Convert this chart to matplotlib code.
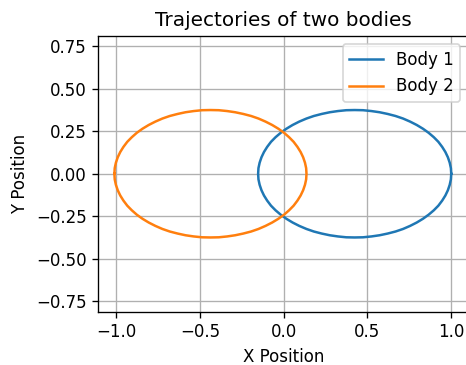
import matplotlib
matplotlib.use("Agg")
import matplotlib.pyplot as plt
from matplotlib.ticker import MultipleLocator

body1_x = [1.002, 1.000, 0.993, 0.982, 0.967, 0.948, 0.925, 0.898, 0.867, 0.833,
           0.796, 0.756, 0.714, 0.669, 0.622, 0.574, 0.525, 0.475, 0.425, 0.375,
           0.325, 0.276, 0.228, 0.181, 0.137, 0.094, 0.054, 0.017, -0.017, -0.048,
           -0.075, -0.098, -0.117, -0.132, -0.143, -0.150, -0.152,
           -0.150, -0.143, -0.132, -0.117, -0.098, -0.075, -0.048, -0.017, 0.017,
           0.054, 0.094, 0.137, 0.181, 0.228, 0.276, 0.325, 0.375, 0.425, 0.475,
           0.525, 0.574, 0.622, 0.669, 0.714, 0.756, 0.796, 0.833, 0.867, 0.898,
           0.925, 0.948, 0.967, 0.982, 0.993, 1.000, 1.002]
body1_y = [0.0, 0.033, 0.065, 0.097, 0.128, 0.158, 0.188, 0.215, 0.241, 0.265,
           0.287, 0.307, 0.325, 0.340, 0.352, 0.362, 0.369, 0.374, 0.375, 0.374,
           0.369, 0.362, 0.352, 0.340, 0.325, 0.307, 0.287, 0.265, 0.241, 0.215,
           0.188, 0.158, 0.128, 0.097, 0.065, 0.033, 0.0,
           -0.033, -0.065, -0.097, -0.128, -0.158, -0.188, -0.215, -0.241, -0.265,
           -0.287, -0.307, -0.325, -0.340, -0.352, -0.362, -0.369, -0.374, -0.375,
           -0.374, -0.369, -0.362, -0.352, -0.340, -0.325, -0.307, -0.287, -0.265,
           -0.241, -0.215, -0.188, -0.158, -0.128, -0.097, -0.065, -0.033, 0.0]

body2_x = [-1.011, -1.009, -1.002, -0.991, -0.976, -0.957, -0.934, -0.907, -0.877, -0.843,
           -0.806, -0.766, -0.724, -0.680, -0.633, -0.586, -0.537, -0.487, -0.437, -0.387,
           -0.337, -0.289, -0.241, -0.194, -0.150, -0.108, -0.068, -0.031, 0.003, 0.033,
           0.060, 0.083, 0.102, 0.117, 0.128, 0.135, 0.137,
           0.135, 0.128, 0.117, 0.102, 0.083, 0.060, 0.033, 0.003, -0.031,
           -0.068, -0.108, -0.150, -0.194, -0.241, -0.289, -0.337, -0.387, -0.437,
           -0.487, -0.537, -0.586, -0.633, -0.680, -0.724, -0.766, -0.806, -0.843,
           -0.877, -0.907, -0.934, -0.957, -0.976, -0.991, -1.002, -1.009, -1.011]
body2_y = [0.0, -0.033, -0.065, -0.097, -0.128, -0.158, -0.188, -0.215, -0.241, -0.265,
           -0.287, -0.307, -0.325, -0.340, -0.352, -0.362, -0.369, -0.374, -0.375, -0.374,
           -0.369, -0.362, -0.352, -0.340, -0.325, -0.307, -0.287, -0.265, -0.241, -0.215,
           -0.188, -0.158, -0.128, -0.097, -0.065, -0.033, 0.0,
           0.033, 0.065, 0.097, 0.128, 0.158, 0.188, 0.215, 0.241, 0.265,
           0.287, 0.307, 0.325, 0.340, 0.352, 0.362, 0.369, 0.374, 0.375,
           0.374, 0.369, 0.362, 0.352, 0.340, 0.325, 0.307, 0.287, 0.265,
           0.241, 0.215, 0.188, 0.158, 0.128, 0.097, 0.065, 0.033, 0.0]

DPI = 120
fig = plt.figure(figsize=(466 / DPI, 365 / DPI), dpi=DPI)
ax = fig.add_axes([0.211, 0.146, 0.795, 0.755])
ax.plot(body1_x, body1_y, label="Body 1")
ax.plot(body2_x, body2_y, label="Body 2")
ax.set_xlim(-1.107, 1.107)
ax.set_ylim(-0.812, 0.81)
ax.xaxis.set_major_locator(MultipleLocator(0.5))
ax.yaxis.set_major_locator(MultipleLocator(0.25))
ax.set_title("Trajectories of two bodies")
ax.set_xlabel("X Position")
ax.set_ylabel("Y Position")
ax.grid(True)
ax.legend(loc="upper right")
fig.savefig("out.png", dpi=DPI)
